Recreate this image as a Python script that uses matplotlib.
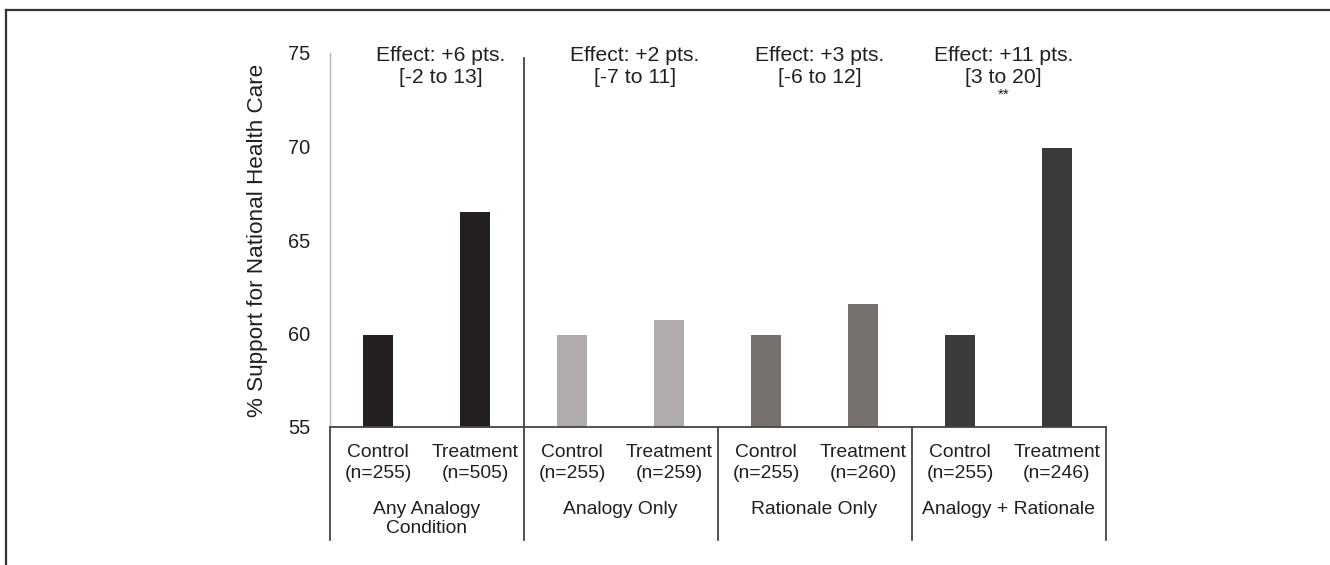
import numpy as np
import matplotlib.pyplot as plt
from matplotlib.lines import Line2D

plt.rcParams['font.family'] = ['Liberation Sans', 'DejaVu Sans']

# Daten
conditions = ['Control', 'Treatment', 'Control', 'Treatment',
              'Control', 'Treatment', 'Control', 'Treatment']
sample_sizes = [255, 505, 255, 259, 255, 260, 255, 246]
support = [59.9, 66.5, 59.9, 60.7, 59.9, 61.6, 59.9, 69.9]
groups = ['Any Analogy\nCondition', 'Analogy Only', 'Rationale Only', 'Analogy + Rationale']
effects = ['Effect: +6 pts.\n[-2 to 13]', 'Effect: +2 pts.\n[-7 to 11]',
           'Effect: +3 pts.\n[-6 to 12]', 'Effect: +11 pts.\n[3 to 20]']
effect_x = [0.65, 2.65, 4.55, 6.45]
stars = ['', '', '', '**']
y_ticks = [55, 60, 65, 70, 75]

group_colors = ['#231f20', '#b0acab', '#76716f', '#3c3a38']
text_color = '#231f20'

fig = plt.figure(figsize=(13.3, 5.65), dpi=100)
ax = fig.add_axes([329.5 / 1330, 138 / 565, 776 / 1330, 374 / 565])

x = np.arange(len(support))
colors = [group_colors[i // 2] for i in x]
ax.bar(x, support, width=0.31, color=colors, bottom=0)
ax.set_xlim(-0.5, 7.5)
ax.set_ylim(55, 75)
ax.set_yticks(y_ticks)
ax.tick_params(axis='y', length=0, pad=14, labelsize=14.4, labelcolor=text_color)
ax.set_xticks([])
for s in ['top', 'right']:
    ax.spines[s].set_visible(False)
ax.spines['left'].set_color('#b5b5b5')
ax.spines['left'].set_linewidth(1.0)
ax.spines['bottom'].set_color('#444444')
ax.spines['bottom'].set_linewidth(1.3)

ax.set_ylabel('% Support for National Health Care', fontsize=16.2, color=text_color, labelpad=14)

trans = ax.get_xaxis_transform()
# Trennlinien unter der Achse
for xv in [-0.5, 1.5, 3.5, 5.5, 7.5]:
    top = 0.987 if xv == 1.5 else 0.0
    ax.add_line(Line2D([xv, xv], [-0.302, top], transform=trans, color='#333333',
                       linewidth=1.2, clip_on=False))

for i, (c, n) in enumerate(zip(conditions, sample_sizes)):
    ax.text(i, -0.046, f'{c}\n(n={n})', transform=trans, ha='center', va='top',
            fontsize=13.9, color=text_color, linespacing=1.32)

for g, label in enumerate(groups):
    ax.text(2 * g + 0.5, -0.198, label, transform=trans, ha='center', va='top',
            fontsize=13.9, color=text_color, linespacing=1.17)

for ex, txt, st in zip(effect_x, effects, stars):
    ax.text(ex, 1.02, txt, transform=trans, ha='center', va='top',
            fontsize=15.2, color=text_color, linespacing=1.25)
    if st:
        ax.text(ex, 0.887, st, transform=trans, ha='center', va='center',
                fontsize=11, color=text_color)

# Rahmen
fig.add_artist(Line2D([0.0045, 1.0], [0.983, 0.983], transform=fig.transFigure,
                      color='#333333', linewidth=1.6))
fig.add_artist(Line2D([0.0045, 0.0045], [0.0, 0.983], transform=fig.transFigure,
                      color='#333333', linewidth=1.6))

fig.savefig('out.png', dpi=100)
